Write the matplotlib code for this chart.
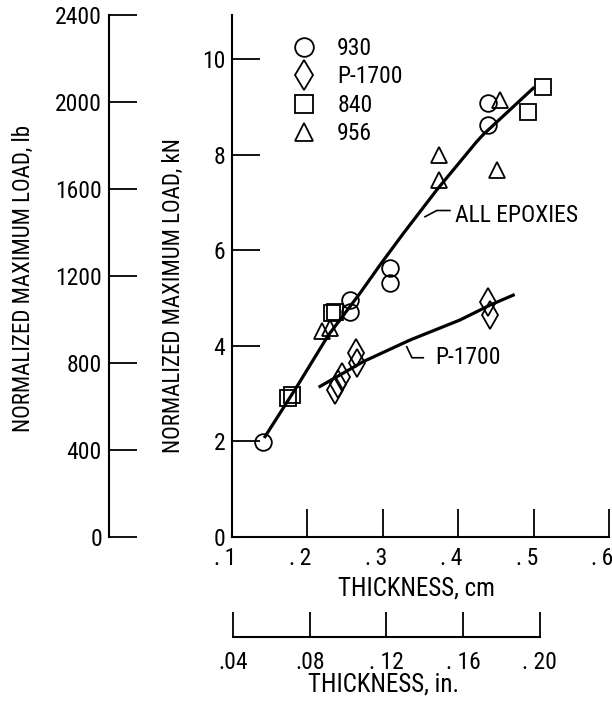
import matplotlib
matplotlib.use("Agg")
import matplotlib.pyplot as plt
import matplotlib.transforms as mtransforms
from matplotlib import font_manager

# prefer a condensed sans face, fall back to DejaVu
available = {f.name for f in font_manager.fontManager.ttflist}
narrow = [n for n in ['Roboto Condensed', 'Archivo Narrow', 'PT Sans Narrow',
                      'IBM Plex Sans Condensed', 'Fira Sans Condensed',
                      'Liberation Sans Narrow'] if n in available]
plt.rcParams['font.family'] = narrow[:1] + ['DejaVu Sans']

# measured points, thickness (cm) vs normalized max load (kN)
x_930 = [0.1415, 0.2565, 0.2565, 0.3095, 0.3095, 0.440, 0.440]
y_930 = [1.99, 4.96, 4.71, 5.62, 5.31, 9.07, 8.62]

x_p1700 = [0.2366, 0.241, 0.2455, 0.2645, 0.2662, 0.440, 0.442]
y_p1700 = [3.08, 3.21, 3.35, 3.84, 3.65, 4.92, 4.64]

x_840 = [0.1747, 0.1792, 0.2322, 0.2366, 0.493, 0.5129]
y_840 = [2.90, 2.97, 4.68, 4.71, 8.90, 9.42]

x_956 = [0.219, 0.230, 0.375, 0.375, 0.451, 0.4554]
y_956 = [4.30, 4.37, 7.99, 7.47, 7.68, 9.14]

# faired curves
x_all_fit = [0.1438, 0.1858, 0.2277, 0.2698, 0.2963, 0.3272, 0.3715, 0.4245, 0.4333, 0.4996]
y_all_fit = [2.10, 3.14, 4.22, 5.10, 5.69, 6.35, 7.26, 8.27, 8.42, 9.39]

x_p_fit = [0.2167, 0.2742, 0.336, 0.4024, 0.442, 0.473]
y_p_fit = [3.15, 3.67, 4.12, 4.54, 4.85, 5.06]

cm_ticks = [0.1, 0.2, 0.3, 0.4, 0.5, 0.6]
cm_labels = ['.\u20091', '.\u20092', '.\u20093', '.\u20094', '.\u20095', '.\u20096']
kn_ticks = [0, 2, 4, 6, 8, 10]
lb_ticks = [0, 400, 800, 1200, 1600, 2000, 2400]
in_ticks = [0.04, 0.08, 0.12, 0.16, 0.20]
in_labels = ['.04', '.08', '. 12', '. 16', '. 20']

FS = 17
fig = plt.figure(figsize=(6.12, 7.04), dpi=100)

ax = fig.add_axes([0.3791, 0.2372, 0.616, 0.7415])
ax.set_xlim(0.1, 0.6)
ax.set_ylim(0, 10.92)
for s in ['top', 'right']:
    ax.spines[s].set_visible(False)
for s in ['left', 'bottom']:
    ax.spines[s].set_linewidth(1.5)
ax.set_xticks(cm_ticks)
ax.set_xticklabels(cm_labels)
ax.set_yticks(kn_ticks)
ax.tick_params(direction='in', length=20, width=1.3, labelsize=FS, pad=5)
ax.tick_params(axis='x', pad=7)
# nudge the x labels so the digit, not the dot, sits under the tick
shift = mtransforms.ScaledTranslation(-5 / 72, 0, fig.dpi_scale_trans)
for lab in ax.get_xticklabels():
    lab.set_transform(lab.get_transform() + shift)

mk = dict(linestyle='none', mfc='none', mec='black', mew=1.3)
ax.plot(x_930, y_930, marker='o', ms=12, label='930', **mk)
ax.plot(x_p1700, y_p1700, marker='d', ms=14, label='P-1700', **mk)
ax.plot(x_840, y_840, marker='s', ms=11, label='840', **mk)
ax.plot(x_956, y_956, marker='^', ms=12, label='956', **mk)

ax.plot(x_all_fit, y_all_fit, color='black', lw=2.3)
ax.plot(x_p_fit, y_p_fit, color='black', lw=2.3)

ax.plot([0.356, 0.3715, 0.389], [6.70, 6.83, 6.83], color='black', lw=1.2)
ax.text(0.396, 6.72, 'ALL EPOXIES', fontsize=FS, va='center', ha='left')
ax.plot([0.3317, 0.3387, 0.3537], [3.98, 3.75, 3.75], color='black', lw=1.2)
ax.text(0.369, 3.76, 'P-1700', fontsize=FS, va='center', ha='left')

ax.legend(loc='upper left', bbox_to_anchor=(0.135, 0.976), frameon=False,
          fontsize=FS, handlelength=1.0, handletextpad=0.9, labelspacing=0.23,
          markerscale=1.12, borderaxespad=0)

ax.set_xlabel('THICKNESS, cm', fontsize=18)
ax.xaxis.set_label_coords(0.49, -0.075)

# pound scale on the far left
axlb = fig.add_axes([0.178, 0.2377, 0.1, 0.7414])
axlb.patch.set_visible(False)
axlb.set_ylim(0, 2400)
for s in ['top', 'right', 'bottom']:
    axlb.spines[s].set_visible(False)
axlb.spines['left'].set_linewidth(1.5)
axlb.set_xticks([])
axlb.set_yticks(lb_ticks)
axlb.tick_params(direction='in', length=20, width=1.3, labelsize=FS, pad=5)

# inch scale below
axin = fig.add_axes([0.3791, 0.0952, 0.616, 0.05])
axin.patch.set_visible(False)
axin.set_xlim(0.1 / 2.54, 0.6 / 2.54)
for s in ['top', 'right', 'left']:
    axin.spines[s].set_visible(False)
axin.spines['bottom'].set_linewidth(1.5)
axin.spines['bottom'].set_bounds(0.04, 0.20)
axin.set_yticks([])
axin.set_xticks(in_ticks)
axin.set_xticklabels(in_labels)
axin.tick_params(direction='in', length=18, width=1.3, labelsize=FS, pad=10)
axin.set_xlabel('THICKNESS, in.', fontsize=18)
axin.xaxis.set_label_coords(0.403, -1.0)

fig.text(0.0376, 0.6037, 'NORMALIZED MAXIMUM LOAD, lb', rotation=90,
         fontsize=16.5, ha='center', va='center')
fig.text(0.2827, 0.5795, 'NORMALIZED MAXIMUM LOAD, kN', rotation=90,
         fontsize=16.5, ha='center', va='center')

fig.savefig('out.png', dpi=100)
